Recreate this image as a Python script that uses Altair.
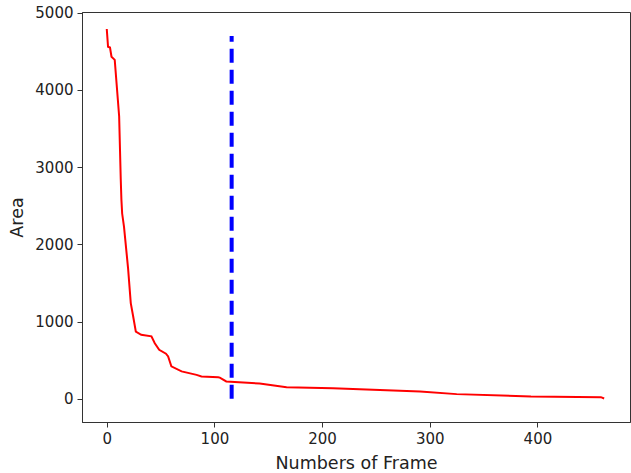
import altair as alt
import pandas as pd

frames = [0, 1.2, 3, 4.4, 7.4, 11.5, 13, 13.6, 14.3, 16, 19.8, 22.3, 24.5, 27, 32, 41.5, 44.6, 48.7, 55, 57, 60,
          69.5, 83.4, 88, 103.5, 105, 111, 142, 167, 210, 291, 325, 394, 459, 462]
areas = [4790, 4560, 4550, 4430, 4390, 3660, 2840, 2580, 2400, 2230, 1690, 1240, 1070, 870, 830, 810, 720, 635, 585, 550, 420,
         355, 310, 290, 280, 275, 225, 198, 150, 137, 95, 61, 30, 22, 5]

cut_frame = [116]
cut_low = [0]
cut_high = [4700]

curve = pd.DataFrame({"frame": frames, "area": areas})
cut = pd.DataFrame({"frame": cut_frame, "lo": cut_low, "hi": cut_high})

xscale = alt.Scale(domain=[-23, 486], nice=False, zero=False)
yscale = alt.Scale(domain=[-300, 5010], nice=False, zero=False)

common = dict(grid=False, tickSize=5, labelFontSize=15, titleFontSize=17.5, labelColor="#222", titleColor="#222",
              labelFont="DejaVu Sans", titleFont="DejaVu Sans", titleFontWeight="normal",
              domainColor="#333", tickColor="#333", labelPadding=4, format="d")
xaxis = alt.Axis(title="Numbers of Frame", values=[0, 100, 200, 300, 400], titlePadding=8, **common)
yaxis = alt.Axis(title="Area", values=[0, 1000, 2000, 3000, 4000, 5000], titlePadding=8, **common)

line = alt.Chart(curve).mark_line(color="red", strokeWidth=2, interpolate="linear").encode(
    x=alt.X("frame:Q", scale=xscale, axis=xaxis),
    y=alt.Y("area:Q", scale=yscale, axis=yaxis),
)

rule = alt.Chart(cut).mark_rule(color="blue", strokeWidth=4, strokeDash=[14, 7]).encode(
    x=alt.X("frame:Q", scale=xscale),
    y=alt.Y("lo:Q", scale=yscale),
    y2="hi:Q",
)

chart = (line + rule).properties(
    width=548, height=410,
    autosize=alt.AutoSizeParams(type="none"),
    padding={"left": 82, "top": 12, "right": 1, "bottom": 51},
    background="white",
).configure_view(stroke="#333", strokeWidth=1)

chart.save("out.html", embed_options={"renderer": "svg", "actions": False})
